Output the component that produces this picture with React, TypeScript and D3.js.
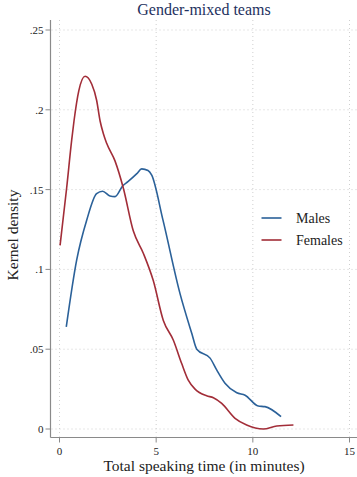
import React from "react";
import * as d3 from "d3";

const W = 357;
const H = 477;

// Kernel density estimates (minutes, density)
const malesX = [0.35, 0.89, 1.41, 1.92, 2.23, 2.61, 2.87, 3.28, 3.54, 4.0, 4.25, 4.58, 4.77, 5.35, 6.23, 6.84, 7.1, 7.79, 8.13, 8.56, 9.17, 9.6, 10.28, 10.63, 11.46];
const malesY = [0.064, 0.106, 0.131, 0.1475, 0.149, 0.146, 0.1456, 0.1525, 0.155, 0.160, 0.163, 0.162, 0.159, 0.131, 0.085, 0.06, 0.05, 0.0444, 0.037, 0.0287, 0.0227, 0.0212, 0.0144, 0.014, 0.0077];

const femalesX = [0.03, 0.37, 0.63, 0.75, 1.0, 1.32, 1.67, 1.92, 2.1, 2.27, 2.44, 2.87, 3.3, 3.82, 4.34, 4.85, 5.37, 5.89, 6.32, 6.66, 7.01, 7.61, 7.96, 8.39, 9.08, 9.68, 10.54, 11.24, 12.1];
const femalesY = [0.115, 0.151, 0.181, 0.193, 0.212, 0.221, 0.216, 0.206, 0.193, 0.185, 0.179, 0.168, 0.151, 0.124, 0.11, 0.093, 0.068, 0.0556, 0.041, 0.0306, 0.025, 0.0208, 0.0196, 0.016, 0.0067, 0.0025, 0.0, 0.0019, 0.0025];

const xTicks = [0, 5, 10, 15];
const yTicks = [0, 0.05, 0.1, 0.15, 0.2, 0.25];
const yTickLabels = ["0", ".05", ".1", ".15", ".2", ".25"];

const seriesNames = ["Males", "Females"];
const seriesColors = ["#2b6199", "#a22d38"];

const font = "'Liberation Serif', 'DejaVu Serif', serif";

export default function App() {
  const x = d3.scaleLinear().domain([0, 15]).range([59.5, 349.5]);
  const y = d3.scaleLinear().domain([0, 0.25]).range([429, 30]);

  const line = d3
    .line<[number, number]>()
    .x((d) => x(d[0]))
    .y((d) => y(d[1]))
    .curve(d3.curveMonotoneX);

  const males = malesX.map((v, i) => [v, malesY[i]] as [number, number]);
  const females = femalesX.map((v, i) => [v, femalesY[i]] as [number, number]);
  const series = [males, females];

  const axisColor = "#8a8a8a";
  const gridColor = "#cfcfcf";
  const left = 50.5;
  const bottom = 437.5;

  return (
    <svg
      width={W}
      height={H}
      style={{ position: "absolute", left: 0, top: 0, background: "#fff" }}
      fontFamily={font}
    >
      <text x={204} y={15} textAnchor="middle" fontSize={16} fill="#1e3160">
        Gender-mixed teams
      </text>

      {/* grid */}
      {yTicks.map((t) => (
        <line key={"gy" + t} x1={left + 1} x2={W} y1={y(t)} y2={y(t)}
          stroke={gridColor} strokeDasharray="1,3" />
      ))}
      {xTicks.map((t) => (
        <line key={"gx" + t} x1={x(t)} x2={x(t)} y1={20} y2={bottom - 1}
          stroke={gridColor} strokeDasharray="1,3" />
      ))}

      {/* axes */}
      <line x1={left} x2={left} y1={20} y2={bottom} stroke={axisColor} strokeWidth={1.2} />
      <line x1={left} x2={W} y1={bottom} y2={bottom} stroke={axisColor} strokeWidth={1.2} />
      {yTicks.map((t, i) => (
        <g key={"ty" + t}>
          <line x1={left - 5} x2={left} y1={y(t)} y2={y(t)} stroke={axisColor} />
          <text x={left - 7} y={y(t) + 4} textAnchor="end" fontSize={11} fill="#222">
            {yTickLabels[i]}
          </text>
        </g>
      ))}
      {xTicks.map((t) => (
        <g key={"tx" + t}>
          <line x1={x(t)} x2={x(t)} y1={bottom} y2={bottom + 5} stroke={axisColor} />
          <text x={x(t)} y={bottom + 17} textAnchor="middle" fontSize={11} fill="#222">
            {t}
          </text>
        </g>
      ))}

      <text x={204} y={471} textAnchor="middle" fontSize={15.5} fill="#222">
        Total speaking time (in minutes)
      </text>
      <text transform="translate(18,235) rotate(-90)" textAnchor="middle" fontSize={15.5} fill="#222">
        Kernel density
      </text>

      {/* curves */}
      {series.map((s, i) => (
        <path key={seriesNames[i]} d={line(s) ?? ""} fill="none"
          stroke={seriesColors[i]} strokeWidth={1.6} />
      ))}

      {/* legend */}
      {seriesNames.map((n, i) => (
        <g key={"lg" + n} transform={`translate(0,${218 + i * 22})`}>
          <line x1={261.5} x2={281.5} y1={0} y2={0} stroke={seriesColors[i]} strokeWidth={1.6} />
          <text x={296} y={5} fontSize={14} fill="#222">{n}</text>
        </g>
      ))}
    </svg>
  );
}
